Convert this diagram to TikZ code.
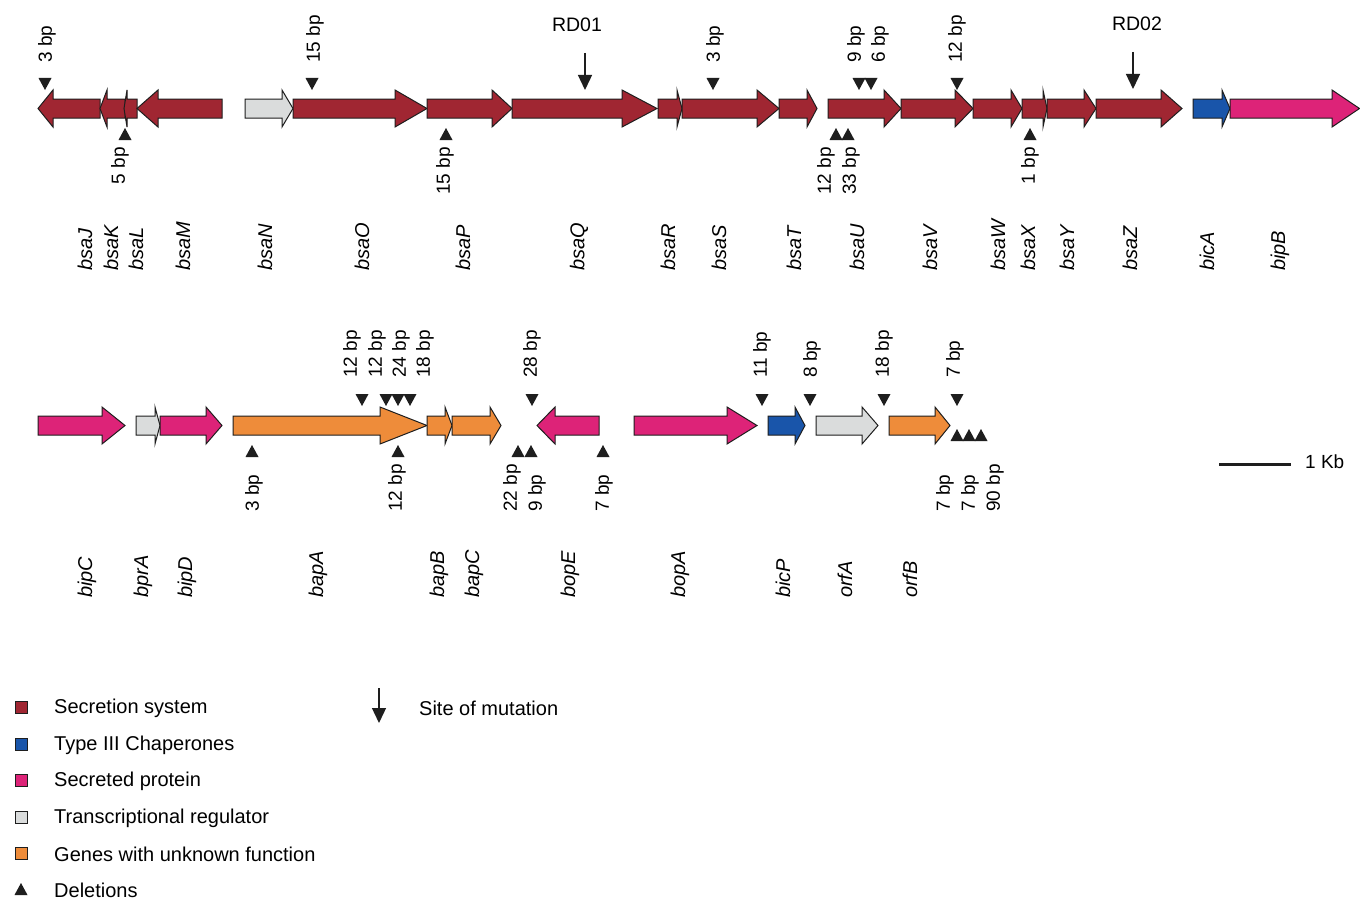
\documentclass[tikz,border=0pt]{standalone}
\usepackage{fontspec}
\setmainfont{Liberation Sans}
\usetikzlibrary{arrows.meta}
\definecolor{secr}{RGB}{160,38,50}
\definecolor{chap}{RGB}{25,85,170}
\definecolor{sprot}{RGB}{221,35,120}
\definecolor{treg}{RGB}{218,220,220}
\definecolor{unkn}{RGB}{238,140,58}
\definecolor{ink}{RGB}{30,30,30}
\tikzset{
  gene/.style={draw=ink, line width=1pt, line join=miter},
  del/.style={fill=ink},
  bplab/.style={font=\fontsize{19}{22}\selectfont, rotate=90, inner sep=0pt},
  glab/.style={font=\fontsize{20}{24}\selectfont\itshape, rotate=90, inner sep=0pt},
  legtext/.style={font=\fontsize{20}{24}\selectfont, anchor=west, inner sep=0pt},
  legbox/.style={draw=ink, line width=0.8pt, minimum size=12pt, inner sep=0pt},
  mutarrow/.style={line width=1.3pt, draw=ink, -{Triangle[width=14pt,length=15pt]}}
}
% #1 name, #2 start x, #3 head back x, #4 tip x, #5 row y, #6 colour
\newcommand\genearrow[6]{%
  \draw[gene,fill=#6] (#2,#5-9.5) -- (#3,#5-9.5) -- (#3,#5-18.5) -- (#4,#5)
    -- (#3,#5+18.5) -- (#3,#5+9.5) -- (#2,#5+9.5) -- cycle;
  \coordinate (g-#1) at (#4,#5);}
\newcommand\dtri[2]{\fill[del] (#1-6.5,#2) -- (#1+6.5,#2) -- (#1,#2+12) -- cycle;}
\newcommand\utri[2]{\fill[del] (#1-6.5,#2) -- (#1+6.5,#2) -- (#1,#2-12) -- cycle;}
\begin{document}
\begin{tikzpicture}[x=1pt,y=-1pt]
\useasboundingbox (0,0) rectangle (1360,899);
\fill[white] (0,0) rectangle (1360,899);

% ---------------- top row genes ----------------
\def\ra{108.5}
\genearrow{bsaJ}{100}{53}{38}{\ra}{secr}
\genearrow{bsaK}{125}{107}{100}{\ra}{secr}
\genearrow{bsaL}{137}{127}{124}{\ra}{secr}
\genearrow{bsaM}{222}{158}{137}{\ra}{secr}
\genearrow{bsaN}{245}{282}{293}{\ra}{treg}
\genearrow{bsaO}{293}{395}{427}{\ra}{secr}
\genearrow{bsaP}{427}{492}{512}{\ra}{secr}
\genearrow{bsaQ}{512}{622}{657}{\ra}{secr}
\genearrow{bsaR}{658}{677}{682}{\ra}{secr}
\genearrow{bsaS}{682}{757}{779}{\ra}{secr}
\genearrow{bsaT}{779}{807}{817}{\ra}{secr}
\genearrow{bsaU}{828}{884}{901}{\ra}{secr}
\genearrow{bsaV}{901}{955}{973}{\ra}{secr}
\genearrow{bsaW}{973}{1011}{1022}{\ra}{secr}
\genearrow{bsaX}{1022}{1043}{1047}{\ra}{secr}
\genearrow{bsaY}{1047}{1084}{1096}{\ra}{secr}
\genearrow{bsaZ}{1096}{1161}{1182}{\ra}{secr}
\genearrow{bicA}{1193}{1222}{1230}{\ra}{chap}
\genearrow{bipB}{1230}{1332}{1359.5}{\ra}{sprot}

% top row deletions
\dtri{45}{78} \dtri{312}{78} \dtri{713}{78} \dtri{859}{78} \dtri{871}{78} \dtri{957}{78}
\utri{125}{140} \utri{446}{140} \utri{836}{140} \utri{848}{140} \utri{1030}{140}

\node[bplab,anchor=west] (t1) at (47,63) {3 bp};
\node[bplab,anchor=west] (t2) at (315,63) {15 bp};
\node[bplab,anchor=west] (t3) at (715,63) {3 bp};
\node[bplab,anchor=west] (t4) at (856,63) {9 bp};
\node[bplab,anchor=west] (t5) at (880,63) {6 bp};
\node[bplab,anchor=west] (t6) at (957,63) {12 bp};
\node[bplab,anchor=east] (b1) at (120,147) {5 bp};
\node[bplab,anchor=east] (b2) at (445,147) {15 bp};
\node[bplab,anchor=east] (b3) at (826,147) {12 bp};
\node[bplab,anchor=east] (b4) at (851,147) {33 bp};
\node[bplab,anchor=east] (b5) at (1030,147) {1 bp};

% mutation sites
\node[font=\fontsize{19.5}{23}\selectfont, inner sep=0pt] (rd1) at (577,25) {RD01};
\node[font=\fontsize{19.5}{23}\selectfont, inner sep=0pt] (rd2) at (1137,24) {RD02};
\coordinate (rd1s) at (585,53); \coordinate (rd1e) at (585,90);
\coordinate (rd2s) at (1133,52); \coordinate (rd2e) at (1133,89);
\draw[mutarrow] (rd1s) -- (rd1e);
\draw[mutarrow] (rd2s) -- (rd2e);

% top row gene names
\foreach \n/\x in {bsaJ/85,bsaK/111,bsaL/136,bsaM/183,bsaN/265,bsaO/362,bsaP/463,bsaQ/579,bsaR/668,bsaS/719,bsaT/794,bsaU/857,bsaV/930,bsaW/998,bsaX/1028,bsaY/1067,bsaZ/1130,bicA/1207,bipB/1280}
  \node[glab,anchor=west] (n-\n) at (\x,271) {\n};

% ---------------- second row genes ----------------
\def\rb{425.5}
\genearrow{bipC}{38}{102}{125}{\rb}{sprot}
\genearrow{bprA}{136}{155}{160}{\rb}{treg}
\genearrow{bipD}{160}{206}{222}{\rb}{sprot}
\genearrow{bapA}{233}{380}{427}{\rb}{unkn}
\genearrow{bapB}{427}{445}{452}{\rb}{unkn}
\genearrow{bapC}{452}{490}{501}{\rb}{unkn}
\genearrow{bopE}{599}{555}{537}{\rb}{sprot}
\genearrow{bopA}{634}{727}{757}{\rb}{sprot}
\genearrow{bicP}{768}{795}{805}{\rb}{chap}
\genearrow{orfA}{816}{862}{878}{\rb}{treg}
\genearrow{orfB}{889}{935}{950}{\rb}{unkn}

% second row deletions
\dtri{362}{394} \dtri{386}{394} \dtri{398}{394} \dtri{410}{394} \dtri{532}{394}
\dtri{762}{394} \dtri{810}{394} \dtri{884}{394} \dtri{957}{394}
\utri{252}{457} \utri{398}{457} \utri{518}{457} \utri{531}{457} \utri{603}{457}
\utri{957}{441} \utri{969}{441} \utri{981}{441}

\node[bplab,anchor=west] (u1) at (352,378) {12 bp};
\node[bplab,anchor=west] (u2) at (377,378) {12 bp};
\node[bplab,anchor=west] (u3) at (401,378) {24 bp};
\node[bplab,anchor=west] (u4) at (425,378) {18 bp};
\node[bplab,anchor=west] (u5) at (532,378) {28 bp};
\node[bplab,anchor=west] (u6) at (762,378) {11 bp};
\node[bplab,anchor=west] (u7) at (812,378) {8 bp};
\node[bplab,anchor=west] (u8) at (884,378) {18 bp};
\node[bplab,anchor=west] (u9) at (955,378) {7 bp};
\node[bplab,anchor=west] (d1) at (254,512) {3 bp};
\node[bplab,anchor=west] (d2) at (397,512) {12 bp};
\node[bplab,anchor=west] (d3) at (512,512) {22 bp};
\node[bplab,anchor=west] (d4) at (537,512) {9 bp};
\node[bplab,anchor=west] (d5) at (604,512) {7 bp};
\node[bplab,anchor=west] (d6) at (945,512) {7 bp};
\node[bplab,anchor=west] (d7) at (970,512) {7 bp};
\node[bplab,anchor=west] (d8) at (995,512) {90 bp};

% second row gene names
\foreach \n/\x in {bipC/87,bprA/143,bipD/187,bapA/318,bapB/439,bapC/474,bopE/570,bopA/680,bicP/783,orfA/845,orfB/910}
  \node[glab,anchor=west] (n-\n) at (\x,598) {\n};

% scale bar
\coordinate (sb1) at (1219,464); \coordinate (sb2) at (1291,464);
\draw[line width=3pt, draw=ink] (sb1) -- (sb2);
\node[font=\fontsize{19}{22}\selectfont, anchor=west, inner sep=0pt] (kb) at (1305,462) {1 Kb};

% ---------------- legend ----------------
\node[legbox, fill=secr] (k1) at (21,707) {};
\node[legbox, fill=chap] (k2) at (21,744) {};
\node[legbox, fill=sprot] (k3) at (21,780) {};
\node[legbox, fill=treg] (k4) at (21,817) {};
\node[legbox, fill=unkn] (k5) at (21,853) {};
\fill[ink] (14.5,895) -- (27.5,895) -- (21,883) -- cycle;
\coordinate (k6) at (21,889);
\node[legtext] (l1) at (54,708) {Secretion system};
\node[legtext] (l2) at (54,745) {Type III Chaperones};
\node[legtext] (l3) at (54,781) {Secreted protein};
\node[legtext] (l4) at (54,818) {Transcriptional regulator};
\node[legtext] (l5) at (54,854) {Genes with unknown function};
\node[legtext] (l6) at (54,890) {Deletions};
\coordinate (ma1) at (379,688); \coordinate (ma2) at (379,723);
\draw[mutarrow] (ma1) -- (ma2);
\node[legtext] (l7) at (419,708) {Site of mutation};
\end{tikzpicture}
\end{document}
